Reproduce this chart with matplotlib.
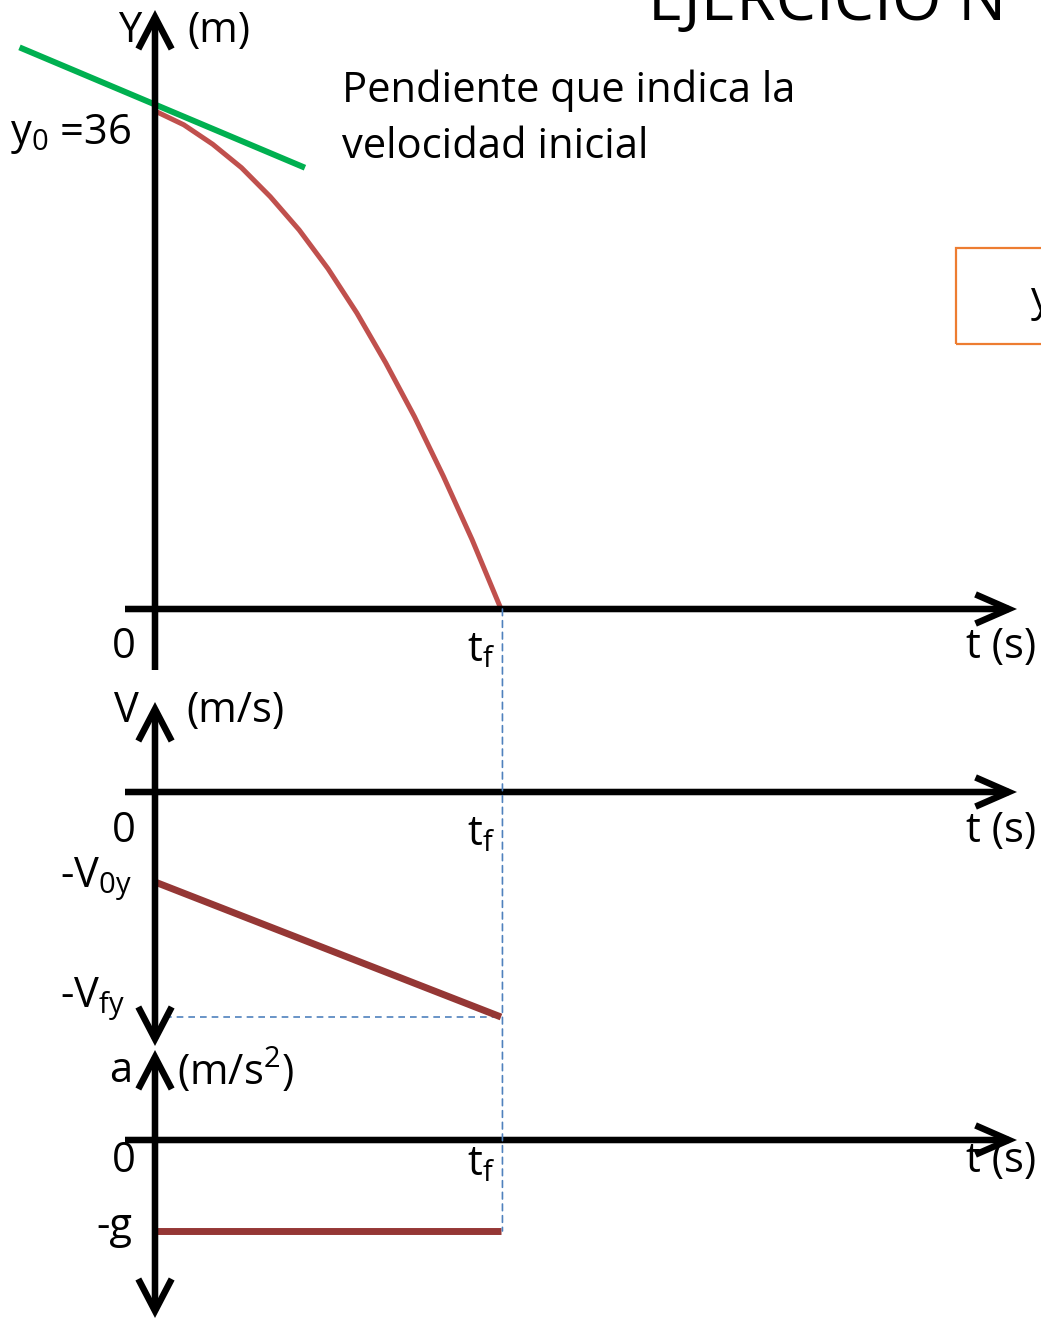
import matplotlib
matplotlib.use("Agg")
import matplotlib.pyplot as plt
from matplotlib.patches import ConnectionPatch, Rectangle, FancyArrowPatch

plt.rcParams['font.family'] = ['Open Sans', 'DejaVu Sans']
plt.rcParams['mathtext.fontset'] = 'custom'
plt.rcParams['mathtext.rm'] = 'Open Sans'
plt.rcParams['mathtext.it'] = 'Open Sans:italic'

# ---- data -------------------------------------------------------------
T_F = 2.4                      # time of impact (s)
Y0 = 36.0                      # initial height (m)
pos_t = [0.0, 0.2, 0.4, 0.6, 0.8, 1.0, 1.2, 1.4, 1.6, 1.8, 2.0, 2.2, 2.4]
pos_y = [36.0, 35.0, 33.6, 31.9, 29.8, 27.4, 24.6, 21.4, 17.8, 13.9, 9.6, 5.0, 0.0]
tangent_t = [-0.94, 1.04]      # line whose slope is the initial velocity
tangent_y = [40.6, 31.9]
V0Y = 4.0                      # magnitude of initial vertical speed
VFY = 10.0                     # magnitude of final vertical speed
vel_t = [0.0, T_F]
vel_v = [-V0Y, -VFY]
G = 9.8
acc_t = [0.0, T_F]
acc_a = [-G, -G]

# ---- figure / panels --------------------------------------------------
W, H = 1041, 1321
fig = plt.figure(figsize=(W / 100, H / 100), dpi=100)
X0 = 155.0                     # pixel column of t = 0
SX = 346.0 / T_F               # pixels per second


def fx(px):
    return px / W


def fy(py):
    return 1 - py / H


def panel(top, bottom, zero, sy):
    ax = fig.add_axes([0, 1 - bottom / H, 1, (bottom - top) / H])
    ax.set_xlim(-X0 / SX, (W - X0) / SX)
    ax.set_ylim((zero - bottom) / sy, (zero - top) / sy)
    ax.axis('off')
    return ax


ax_y = panel(0, 680, 609, 498.0 / Y0)
ax_v = panel(680, 1046, 792, 22.5)
ax_a = panel(1046, 1321, 1140, 91.0 / G)

AX_LW = 4.7
FS = 30


def h_axis(ypx):
    fig.add_artist(FancyArrowPatch(
        (fx(125), fy(ypx)), (fx(1017), fy(ypx)), transform=fig.transFigure,
        arrowstyle='->,head_length=2.4,head_width=1.05', mutation_scale=10,
        lw=AX_LW, color='black', shrinkA=0, shrinkB=0,
        capstyle='butt', joinstyle='miter'))


def v_axis(y_start, y_end, style):
    fig.add_artist(FancyArrowPatch(
        (fx(X0), fy(y_start)), (fx(X0), fy(y_end)), transform=fig.transFigure,
        arrowstyle=style, mutation_scale=10,
        lw=AX_LW, color='black', shrinkA=0, shrinkB=0,
        capstyle='butt', joinstyle='miter'))


# axes with arrows
v_axis(670, 10, '->,head_length=2.3,head_width=1.2')
h_axis(609)
v_axis(1046, 702, '<->,head_length=2.3,head_width=1.2')
h_axis(792)
v_axis(1318, 1050, '<->,head_length=2.3,head_width=1.2')
h_axis(1140)

# position-time curve and its initial tangent
ax_y.plot(pos_t, pos_y, color='#C0504D', lw=3.6, solid_capstyle='butt',
          solid_joinstyle='round', clip_on=False, zorder=3)
ax_y.plot(tangent_t, tangent_y, color='#00B050', lw=4.3, solid_capstyle='butt',
          clip_on=False, zorder=4)

# velocity and acceleration
ax_v.plot(vel_t, vel_v, color='#953735', lw=5.0, solid_capstyle='butt',
          clip_on=False, zorder=3)
ax_a.plot(acc_t, acc_a, color='#953735', lw=5.0, solid_capstyle='butt',
          clip_on=False, zorder=3)

# guide lines at t_f and -V_fy
DASH = dict(color='#4F81BD', lw=1.2, linestyle=(0, (4, 3)))
ax_v.plot([0.07, T_F], [-VFY, -VFY], zorder=2, clip_on=False, **DASH)
fig.add_artist(ConnectionPatch(xyA=(T_F + 0.01, 0), coordsA=ax_y.transData,
                               xyB=(T_F + 0.01, -G), coordsB=ax_a.transData,
                               zorder=1, **DASH))

# ---- text -------------------------------------------------------------
def label(x, y, s, ha='left', size=FS):
    fig.text(fx(x), fy(y), s, ha=ha, va='center', fontsize=size, color='black')


label(118, 31, 'Y')
label(187, 31, '(m)')
label(10, 134, r'$\mathregular{y_0}$ =36')
label(342, 91, 'Pendiente que indica la')
label(342, 147, 'velocidad inicial')

for y0 in (647, 831, 1161):
    label(112, y0, '0')
    label(467, y0 + 3, r'$\mathregular{t_f}$')
    label(966, y0, 't (s)')

label(114, 711, 'V')
label(186, 711, '(m/s)')
label(60, 879, r'-$\mathregular{V_{0y}}$')
label(60, 999, r'-$\mathregular{V_{fy}}$')
label(109, 1071, 'a')
label(177, 1071, r'(m/s$\mathregular{^2}$)')
label(96, 1227, '-g')

# slide title running off the top edge and a framed box at the right
fig.text(fx(648), fy(20), 'EJERCICIO N', ha='left', va='baseline',
         fontsize=46, color='black')
fig.add_artist(Rectangle((fx(956), fy(344)), fx(120), fy(248) - fy(344),
                         transform=fig.transFigure, fill=False,
                         edgecolor='#ED7D31', lw=1.6))
label(1031, 300, 'y')

fig.savefig('out.png', dpi=100)
